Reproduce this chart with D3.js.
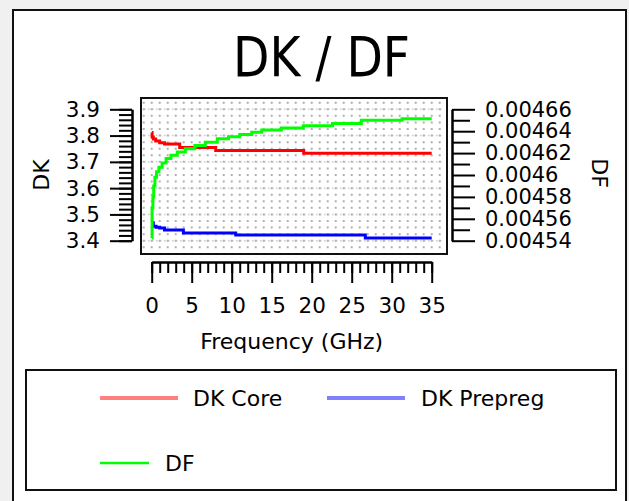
<!DOCTYPE html>
<html>
<head>
<meta charset="utf-8">
<script src="https://cdn.jsdelivr.net/npm/d3@7"></script>
<style>
  body { margin: 0; background: #f0f0f0; }
  svg { display: block; font-family: "DejaVu Sans", Verdana, sans-serif; }
</style>
</head>
<body>
<div id="chart"></div>
<script>
// values
const coreFreq = [0.01, 0.05, 0.2, 0.5, 1.0, 1.6, 3.5, 8.0, 19.0, 35];
const coreDK = [3.812, 3.795, 3.787, 3.779, 3.773, 3.768, 3.755, 3.743, 3.733, 3.733];

const prepregFreq = [0.08, 0.2, 0.54, 1.0, 1.6, 3.96, 10.5, 26.7, 35];
const prepregDK = [3.468, 3.455, 3.451, 3.448, 3.441, 3.429, 3.422, 3.410, 3.410];

const dfFreq = [0.02, 0.05, 0.15, 0.25, 0.4, 0.6, 0.9, 1.3, 1.8, 2.4, 3.2, 4.2, 5.4, 6.7,
  8.2, 9.6, 11.0, 12.5, 13.75, 16.2, 18.95, 22.6, 26.2, 31.3, 35];
const dfValues = [0.0045425, 0.00457, 0.00458, 0.00459, 0.004598, 0.004603, 0.004607, 0.004611,
  0.004615, 0.004618, 0.004621, 0.004624, 0.004627, 0.00463, 0.004633, 0.004635, 0.004637,
  0.004639, 0.004641, 0.004643, 0.004645, 0.004647, 0.00465, 0.0046514, 0.0046514];

const freqTicks = [0, 5, 10, 15, 20, 25, 30, 35];
const dkTicks = [3.4, 3.5, 3.6, 3.7, 3.8, 3.9];
const dfTicks = [0.00454, 0.00456, 0.00458, 0.0046, 0.00462, 0.00464, 0.00466];

const legendItems = [
  { name: "DK Core", color: "#ff8080", width: 4 },
  { name: "DK Prepreg", color: "#8080ff", width: 4 },
  { name: "DF", color: "#00ff00", width: 2.5 }
];

const width = 629;
const height = 501;
const box = { left: 141, right: 447, top: 98, bottom: 254 };

const svg = d3.select("#chart")
  .append("svg")
  .attr("width", width)
  .attr("height", height);

// outer frame
svg.append("rect")
  .attr("x", 13).attr("y", 10)
  .attr("width", 613).attr("height", 520)
  .attr("fill", "#fff")
  .attr("stroke", "#111")
  .attr("stroke-width", 2);

const x = d3.scaleLinear().domain([0, 35]).range([151.7, 431.7]);
const yDK = d3.scaleLinear().domain([3.4, 3.9]).range([240.7, 109.3]);
const yDF = d3.scaleLinear().domain([0.00454, 0.00466]).range([240.7, 109.3]);

// dotted grid: dotted column every GHz, finer dotted row on each DK major
const grid = svg.append("g");
const gridCols = d3.range(-1, 37).filter(f => x(f) > box.left + 1 && x(f) < box.right - 1);
const dotStep = yDK(3.875) - yDK(3.9);
const colTop = box.top + 2;

grid.selectAll("line.major")
  .data(dkTicks)
  .join("line")
  .attr("class", "major")
  .attr("x1", box.left + 3).attr("x2", box.right - 3)
  .attr("y1", d => yDK(d)).attr("y2", d => yDK(d))
  .attr("stroke", "#cdcdcd")
  .attr("stroke-width", 1.5)
  .attr("stroke-dasharray", "1.5,2.5");

grid.selectAll("line.col")
  .data(gridCols)
  .join("line")
  .attr("class", "col")
  .attr("x1", d => x(d)).attr("x2", d => x(d))
  .attr("y1", colTop).attr("y2", box.bottom - 2)
  .attr("stroke", "#b0b0b0")
  .attr("stroke-width", 2)
  .attr("stroke-dasharray", `2,${dotStep - 2}`)
  .attr("stroke-dashoffset", dotStep - ((yDK(3.9) - 1 - colTop) % dotStep));

// series
svg.append("clipPath").attr("id", "clip")
  .append("rect")
  .attr("x", box.left).attr("y", box.top)
  .attr("width", box.right - box.left).attr("height", box.bottom - box.top);

const series = [
  { xs: coreFreq, ys: coreDK, y: yDK, color: "#ff0000" },
  { xs: prepregFreq, ys: prepregDK, y: yDK, color: "#0000ff" },
  { xs: dfFreq, ys: dfValues, y: yDF, color: "#00ff00" }
];

const lines = svg.append("g").attr("clip-path", "url(#clip)");
series.forEach(s => {
  const line = d3.line()
    .x(i => x(s.xs[i]))
    .y(i => s.y(s.ys[i]))
    .curve(d3.curveStepAfter);
  lines.append("path")
    .attr("d", line(d3.range(s.xs.length)))
    .attr("fill", "none")
    .attr("stroke", s.color)
    .attr("stroke-width", 3);
});

// plot box
svg.append("rect")
  .attr("x", box.left).attr("y", box.top)
  .attr("width", box.right - box.left).attr("height", box.bottom - box.top)
  .attr("fill", "none")
  .attr("stroke", "#111")
  .attr("stroke-width", 2);

// axes
function styleAxis(g, size) {
  g.selectAll("path, line").attr("stroke", "#000").attr("stroke-width", 2);
  g.selectAll("text").attr("font-size", size).attr("fill", "#000")
    .attr("font-family", "\"DejaVu Sans\", Verdana, sans-serif");
}

const dkMinor = d3.range(3.4, 3.9001, 0.02);
svg.append("g").attr("transform", "translate(132,0)")
  .call(d3.axisLeft(yDK).tickValues(dkMinor).tickSize(13).tickSizeOuter(0).tickFormat(""))
  .call(g => styleAxis(g, 21));
svg.append("g").attr("transform", "translate(132,0)")
  .call(d3.axisLeft(yDK).tickValues(dkTicks).tickSize(22).tickSizeOuter(0).tickPadding(10)
    .tickFormat(d3.format(".1f")))
  .call(g => styleAxis(g, 21.5));

const dfMinor = d3.range(0.00455, 0.00466, 0.00002);
svg.append("g").attr("transform", "translate(452,0)")
  .call(d3.axisRight(yDF).tickValues(dfMinor).tickSize(18).tickSizeOuter(0).tickFormat(""))
  .call(g => styleAxis(g, 21));
svg.append("g").attr("transform", "translate(452,0)")
  .call(d3.axisRight(yDF).tickValues(dfTicks).tickSize(23).tickSizeOuter(0).tickPadding(10)
    .tickFormat(d => String(+d.toFixed(5))))
  .call(g => styleAxis(g, 21));

const freqMinor = d3.range(0, 36, 1);
svg.append("g").attr("transform", "translate(0,262)")
  .call(d3.axisBottom(x).tickValues(freqMinor).tickSize(11).tickSizeOuter(0).tickFormat(""))
  .call(g => styleAxis(g, 21));
svg.append("g").attr("transform", "translate(0,262)")
  .call(d3.axisBottom(x).tickValues(freqTicks).tickSize(21).tickSizeOuter(0).tickPadding(14.5))
  .call(g => styleAxis(g, 21.5));

// titles
svg.append("text")
  .attr("x", 321.5).attr("y", 76)
  .attr("text-anchor", "middle")
  .attr("font-size", 56)
  .attr("textLength", 177)
  .attr("lengthAdjust", "spacingAndGlyphs")
  .text("DK / DF");

svg.append("text")
  .attr("x", (x(0) + x(35)) / 2).attr("y", 349)
  .attr("text-anchor", "middle")
  .attr("font-size", 22)
  .text("Frequency (GHz)");

svg.append("text")
  .attr("transform", "translate(41,175) rotate(-90)")
  .attr("text-anchor", "middle")
  .attr("dy", "0.36em")
  .attr("font-size", 22)
  .text("DK");

svg.append("text")
  .attr("transform", "translate(600,173) rotate(90)")
  .attr("text-anchor", "middle")
  .attr("dy", "0.36em")
  .attr("font-size", 22)
  .text("DF");

// legend
const legend = svg.append("g");
legend.append("rect")
  .attr("x", 26).attr("y", 370)
  .attr("width", 590).attr("height", 120)
  .attr("fill", "none")
  .attr("stroke", "#111")
  .attr("stroke-width", 2);

const legendPos = [
  { x1: 100, x2: 178, tx: 193, y: 398 },
  { x1: 327, x2: 405, tx: 421, y: 398 },
  { x1: 100, x2: 149, tx: 165, y: 463 }
];

legendItems.forEach((d, i) => {
  const p = legendPos[i];
  legend.append("line")
    .attr("x1", p.x1).attr("x2", p.x2)
    .attr("y1", p.y).attr("y2", p.y)
    .attr("stroke", d.color)
    .attr("stroke-width", d.width);
  legend.append("text")
    .attr("x", p.tx).attr("y", p.y)
    .attr("dy", "0.36em")
    .attr("font-size", 22)
    .text(d.name);
});
</script>
</body>
</html>
